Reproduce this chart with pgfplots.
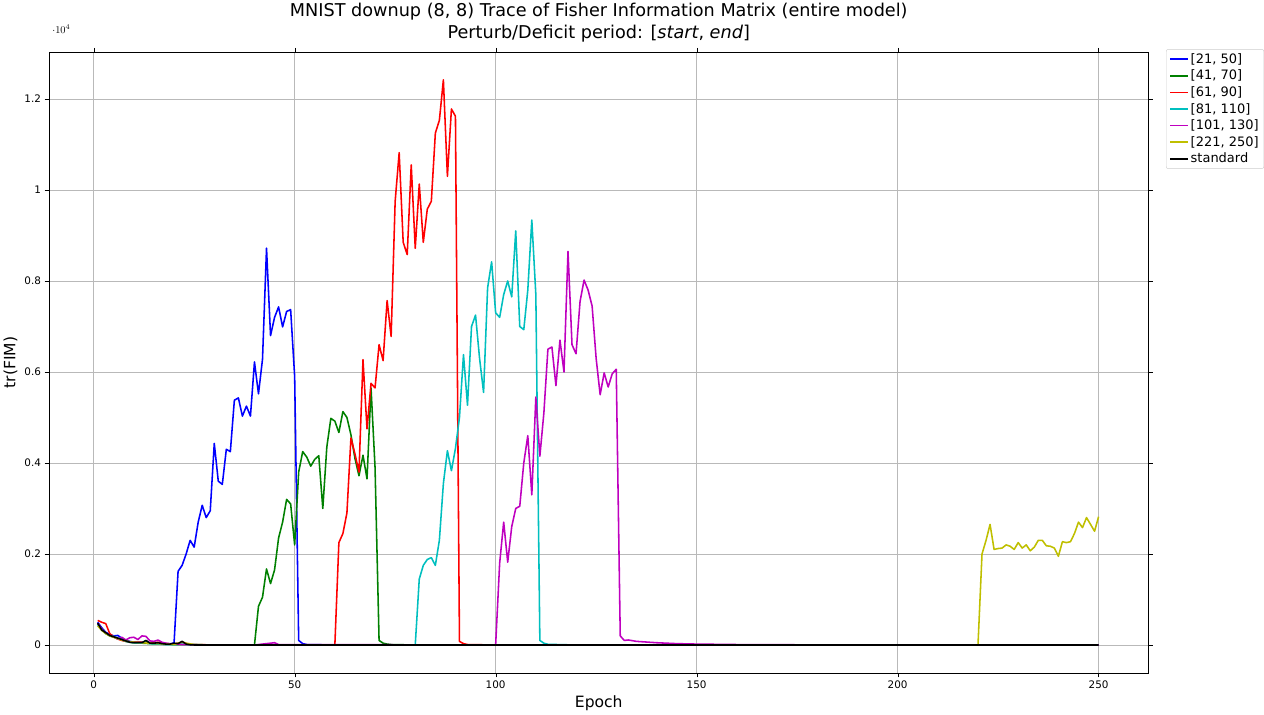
\documentclass[border=0pt]{standalone}
\usepackage{pgfplots}
\pgfplotsset{compat=1.18}
\usepackage{fontspec}
\setmainfont{DejaVu Sans}
\definecolor{mg}{rgb}{0,0.5,0}
\definecolor{mc}{rgb}{0,0.75,0.75}
\definecolor{mm}{rgb}{0.75,0,0.75}
\definecolor{my}{rgb}{0.75,0.75,0}
\begin{document}
\begin{tikzpicture}
\begin{axis}[
  scale only axis, width=1059pt, height=598pt,
  xmin=-11.1, xmax=262.4, ymin=-616, ymax=13027,
  xtick={0,50,100,150,200,250}, ytick={0,2000,4000,6000,8000,10000,12000},
  /pgf/number format/1000 sep={}, /pgf/number format/assume math mode=true,
  tick label style={font=\fontsize{10}{12}\selectfont},
  grid=major, grid style={gray!55, line width=0.6pt},
  tick align=outside, tick style={black},
  xlabel={Epoch}, ylabel={tr(FIM)},
  label style={font=\fontsize{15}{18}\selectfont},
  title style={font=\fontsize{17}{21}\selectfont, align=center},
  title={MNIST downup (8, 8) Trace of Fisher Information Matrix (entire model)\\Perturb/Deficit period: [\textit{start}, \textit{end}]},
  legend style={at={(1.016,1.005)}, anchor=north west, font=\fontsize{12.5}{15}\selectfont, draw=gray!40, rounded corners=2pt, row sep=1pt},
  legend cell align=left,
  every axis plot/.append style={line width=1.5pt, line join=round},
]
\addplot[blue] coordinates {(1,500)(2,380)(3,280)(4,230)(5,200)(6,210)(7,150)(8,100)(9,80)(10,60)(12,60)(14,50)(16,30)(18,20)(19,20)(20,50)
(21,1620)(22,1750)(23,2000)(24,2300)(25,2150)(26,2700)(27,3070)(28,2800)(29,2950)(30,4430)(31,3600)(32,3530)(33,4300)(34,4250)(35,5380)(36,5430)(37,5030)(38,5250)(39,5030)(40,6220)(41,5520)(42,6280)(43,8720)(44,6800)(45,7200)(46,7430)(47,6990)(48,7330)(49,7370)(50,5900)(51,100)(52,30)(53,10)(60,0)(250,0)};
\addlegendentry{[21, 50]}
\addplot[mg] coordinates {(1,470)(2,350)(3,260)(4,200)(5,170)(6,140)(7,110)(8,80)(9,60)(10,50)(12,40)(14,30)(16,20)(18,15)(20,10)(25,5)(40,0)
(41,850)(42,1050)(43,1670)(44,1350)(45,1650)(46,2350)(47,2700)(48,3200)(49,3100)(50,2200)(51,3800)(52,4250)(53,4130)(54,3930)(55,4080)(56,4160)(57,3000)(58,4350)(59,4980)(60,4920)(61,4670)(62,5130)(63,5000)(64,4620)(65,4100)(66,3720)(67,4170)(68,3650)(69,5650)(70,3900)(71,100)(72,40)(73,20)(74,10)(80,0)(250,0)};
\addlegendentry{[41, 70]}
\addplot[red] coordinates {(1,540)(2,500)(3,470)(4,250)(5,180)(6,130)(7,100)(8,80)(9,70)(10,60)(12,60)(14,50)(16,60)(17,50)(18,30)(20,20)(22,60)(24,10)(26,5)(60,0)
(61,2250)(62,2450)(63,2900)(64,4550)(65,4200)(66,3800)(67,6270)(68,4750)(69,5750)(70,5650)(71,6600)(72,6250)(73,7570)(74,6780)(75,9750)(76,10820)(77,8850)(78,8580)(79,10550)(80,8720)(81,10130)(82,8850)(83,9580)(84,9750)(85,11250)(86,11530)(87,12420)(88,10300)(89,11780)(90,11620)(91,80)(92,30)(93,10)(100,0)(250,0)};
\addlegendentry{[61, 90]}
\addplot[mc] coordinates {(1,450)(2,330)(3,250)(4,200)(5,190)(6,150)(7,120)(8,80)(9,60)(10,50)(12,40)(13,100)(14,30)(16,20)(18,10)(20,5)(22,20)(24,5)(80,0)
(81,1450)(82,1750)(83,1880)(84,1920)(85,1750)(86,2300)(87,3550)(88,4270)(89,3830)(90,4320)(91,5000)(92,6380)(93,5270)(94,7000)(95,7250)(96,6300)(97,5550)(98,7850)(99,8420)(100,7300)(101,7200)(102,7700)(103,8000)(104,7650)(105,9100)(106,7000)(107,6930)(108,7800)(109,9340)(110,7700)(111,100)(112,40)(113,15)(120,0)(250,0)};
\addlegendentry{[81, 110]}
\addplot[mm] coordinates {(1,480)(2,350)(3,260)(4,210)(5,180)(6,130)(7,170)(8,110)(9,160)(10,170)(11,120)(12,200)(13,190)(14,90)(15,80)(16,110)(17,60)(18,40)(20,20)(22,10)(25,5)(40,0)(45,50)(46,10)(100,0)
(101,1800)(102,2700)(103,1820)(104,2600)(105,3000)(106,3050)(107,4000)(108,4600)(109,3300)(110,5450)(111,4150)(112,5100)(113,6500)(114,6550)(115,5700)(116,6700)(117,6000)(118,8650)(119,6600)(120,6400)(121,7550)(122,8020)(123,7800)(124,7450)(125,6300)(126,5500)(127,5980)(128,5670)(129,5960)(130,6060)(131,200)(132,100)(133,110)(135,80)(140,50)(145,30)(150,20)(160,10)(170,5)(250,0)};
\addlegendentry{[101, 130]}
\addplot[my] coordinates {(1,420)(2,320)(3,250)(4,200)(5,170)(6,140)(7,110)(8,90)(9,70)(10,60)(12,50)(14,40)(16,30)(18,20)(20,10)(22,70)(23,40)(25,10)(27,5)(30,0)(220,0)
(221,2000)(222,2300)(223,2650)(224,2100)(225,2120)(226,2130)(227,2200)(228,2170)(229,2100)(230,2250)(231,2130)(232,2200)(233,2070)(234,2150)(235,2300)(236,2300)(237,2180)(238,2170)(239,2130)(240,1950)(241,2270)(242,2250)(243,2270)(244,2450)(245,2700)(246,2580)(247,2800)(248,2650)(249,2500)(250,2820)};
\addlegendentry{[221, 250]}
\addplot[black] coordinates {(1,480)(2,330)(3,270)(4,210)(5,180)(6,150)(7,120)(8,90)(9,60)(10,50)(11,50)(12,50)(13,100)(14,40)(15,40)(16,50)(17,30)(18,20)(19,20)(20,40)(21,30)(22,80)(23,20)(24,5)(25,0)(250,0)};
\addlegendentry{standard}
\end{axis}
\end{tikzpicture}
\end{document}
